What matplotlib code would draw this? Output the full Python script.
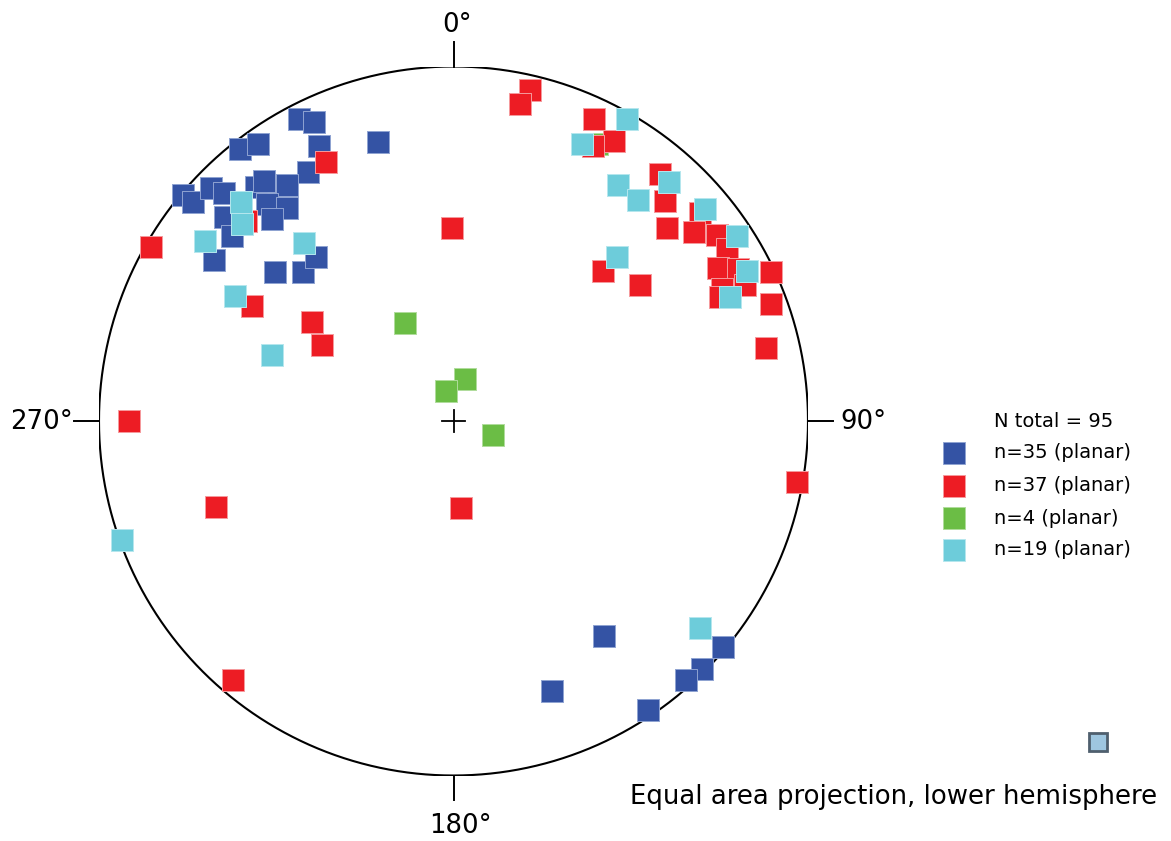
import numpy as np
import matplotlib
matplotlib.use("Agg")
import matplotlib.pyplot as plt
from matplotlib.patches import Rectangle

# pole positions on the net, east / north, in percent of the net radius
blue_x = [-43.67, -39.44, -38.03, -60.31, -55.06, -21.30, -40.96, -76.22, -73.40, -68.41,
          -64.74, -55.80, -53.37, -46.88, -52.53, -46.97, -51.28, -64.46, -62.57, -67.48,
          -50.35, -42.45, -38.79, 42.54, 27.70, 75.94, 70.01, 65.50, 54.87]
blue_y = [85.11, 84.26, 77.66, 76.64, 78.22, 78.70, 70.33, 63.84, 61.69, 65.64,
          64.40, 66.09, 67.79, 66.57, 61.21, 60.09, 56.90, 57.63, 52.27, 45.42,
          41.95, 42.12, 46.18, -60.56, -76.16, -63.84, -69.96, -73.06, -81.52]

red_x = [21.58, 18.76, 39.72, 45.19, 39.44, 58.34, 59.66, 69.62, 60.23, 67.76,
         74.33, 77.15, 74.70, 80.25, 89.56, 82.31, 75.74, 75.26, 89.56, 42.17,
         52.69, -0.42, -35.97, -85.33, -56.93, -40.00, -37.18, 88.15, -91.54, 96.90,
         -67.00, 2.12, -62.20, -58.53]
red_y = [93.29, 89.34, 85.19, 78.98, 77.57, 69.68, 61.97, 58.59, 54.53, 53.31,
         52.38, 48.43, 43.07, 42.88, 41.95, 38.36, 37.32, 34.98, 32.92, 42.23,
         38.36, 54.44, 72.98, 49.17, 32.52, 28.01, 21.44, 20.59, 0.00, -17.21,
         -24.26, -24.54, -73.06, 56.50]

green_x = [-13.68, 3.24, -2.12, 11.28, 40.48]
green_y = [27.64, 11.85, 8.46, -3.86, 78.14]

cyan_x = [49.03, 36.25, 60.87, 46.49, 52.05, 70.94, 80.06, 82.71, 78.08, 46.21,
          -60.03, -59.75, -70.10, -42.09, -61.64, -51.20, -93.51, 69.62]
cyan_y = [85.19, 78.22, 67.50, 66.57, 62.26, 59.72, 52.27, 42.31, 35.06, 46.26,
          61.86, 55.49, 50.78, 50.13, 35.26, 18.53, -33.57, -58.48]

legend_labels = ["n=35 (planar)", "n=37 (planar)", "n=4 (planar)", "n=19 (planar)"]
n_total = 95
dir_labels = ["0\u00b0", "90\u00b0", "180\u00b0", "270\u00b0"]

colors = ["#3453A4", "#ED1C24", "#6BBD45", "#6DCCDA"]
edges = ["#8FA3D2", "#F59A9D", "#B0DC9C", "#B5E7EE"]

W, H = 1171, 841
fig = plt.figure(figsize=(W / 100, H / 100), dpi=100)

def fx(x):
    return x / W

def fy(y):
    return 1 - y / H

# net centre at (453.5, 421) px, radius 354.5 px
ax = fig.add_axes([fx(99), fy(775.5), 709 / W, 709 / H])
ax.set_xlim(-100, 100)
ax.set_ylim(-100, 100)
ax.axis("off")

t = np.linspace(0, 2 * np.pi, 721)
ax.plot(100 * np.cos(t), 100 * np.sin(t), color="black", lw=1.5, zorder=1)
for ang in [0, 90, 180, 270]:
    a = np.deg2rad(90 - ang)
    ax.plot([100 * np.cos(a), 107 * np.cos(a)], [100 * np.sin(a), 107 * np.sin(a)],
            color="black", lw=1.4, clip_on=False)
ax.plot([-3.2, 3.2], [0, 0], color="black", lw=1.3)
ax.plot([0, 0], [-3.2, 3.2], color="black", lw=1.3)

groups = [(blue_x, blue_y), (green_x, green_y), (red_x, red_y), (cyan_x, cyan_y)]
order = [0, 2, 1, 3]
for i, (gx, gy) in zip(order, groups):
    ax.scatter(gx, gy, marker="s", s=15.2 ** 2, c=colors[i], edgecolors=edges[i],
               linewidths=0.7, zorder=3 + order.index(i), clip_on=False)

fs = 18.7
fig.text(fx(457), fy(25), dir_labels[0], ha="center", va="center", fontsize=fs)
fig.text(fx(840), fy(422), dir_labels[1], ha="left", va="center", fontsize=fs)
fig.text(fx(460), fy(826), dir_labels[2], ha="center", va="center", fontsize=fs)
fig.text(fx(73), fy(422), dir_labels[3], ha="right", va="center", fontsize=fs)

# legend
fig.text(fx(994), fy(422), f"N total = {n_total}", ha="left", va="center", fontsize=14)
row_y = [453, 485.5, 518, 549.5]
for i, lab in enumerate(legend_labels):
    fig.add_artist(Rectangle((fx(943), fy(row_y[i] + 11)), 22 / W, 22 / H,
                             facecolor=colors[i], edgecolor=edges[i], lw=0.7,
                             transform=fig.transFigure))
    fig.text(fx(994), fy(row_y[i]), lab, ha="left", va="center", fontsize=14)

fig.add_artist(Rectangle((fx(1089), fy(751)), 18 / W, 18 / H, facecolor="#9EC6E0",
                         edgecolor="#4F5F6E", lw=2, transform=fig.transFigure))
fig.text(fx(630), fy(797), "Equal area projection, lower hemisphere",
         ha="left", va="center", fontsize=fs)

fig.savefig("out.png", dpi=100, facecolor="white")
